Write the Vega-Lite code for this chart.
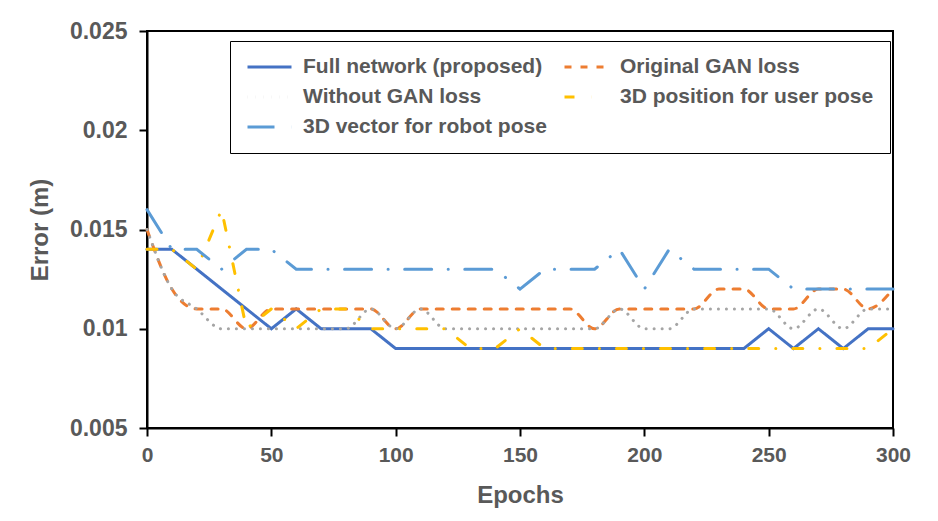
{
  "$schema": "https://vega.github.io/schema/vega-lite/v6.json",
  "width": 746,
  "height": 397,
  "autosize": {"type": "none"},
  "padding": {"left": 147, "top": 31, "right": 45, "bottom": 93},
  "background": "white",
  "config": {
    "view": {"stroke": "black", "strokeWidth": 2},
    "font": "Liberation Sans",
    "axis": {
      "grid": false,
      "domainColor": "black",
      "domainWidth": 2,
      "tickColor": "black",
      "tickWidth": 2,
      "tickSize": 8,
      "labelFont": "Liberation Sans",
      "labelFontWeight": "bold",
      "labelColor": "#595959",
      "titleFont": "Liberation Sans",
      "titleFontWeight": "bold",
      "titleColor": "#595959",
      "titleFontSize": 24
    },
    "legend": {
      "orient": "none",
      "legendX": 83,
      "legendY": 10,
      "columns": 2,
      "direction": "horizontal",
      "strokeColor": "black",
      "fillColor": "white",
      "padding": 16,
      "symbolType": "stroke",
      "symbolSize": 1936,
      "symbolStrokeWidth": 3,
      "clipHeight": 20,
      "labelFont": "Liberation Sans",
      "labelFontSize": 21,
      "labelFontWeight": "bold",
      "labelColor": "#595959",
      "labelOffset": 10,
      "labelLimit": 400,
      "rowPadding": 9,
      "columnPadding": 16
    }
  },
  "data": {
    "values": [
      {"series": "Full network (proposed)", "epoch": 0, "error": 0.014},
      {"series": "Full network (proposed)", "epoch": 10, "error": 0.014},
      {"series": "Full network (proposed)", "epoch": 20, "error": 0.013},
      {"series": "Full network (proposed)", "epoch": 30, "error": 0.012},
      {"series": "Full network (proposed)", "epoch": 40, "error": 0.011},
      {"series": "Full network (proposed)", "epoch": 50, "error": 0.010},
      {"series": "Full network (proposed)", "epoch": 60, "error": 0.011},
      {"series": "Full network (proposed)", "epoch": 70, "error": 0.010},
      {"series": "Full network (proposed)", "epoch": 80, "error": 0.010},
      {"series": "Full network (proposed)", "epoch": 90, "error": 0.010},
      {"series": "Full network (proposed)", "epoch": 100, "error": 0.009},
      {"series": "Full network (proposed)", "epoch": 110, "error": 0.009},
      {"series": "Full network (proposed)", "epoch": 120, "error": 0.009},
      {"series": "Full network (proposed)", "epoch": 130, "error": 0.009},
      {"series": "Full network (proposed)", "epoch": 140, "error": 0.009},
      {"series": "Full network (proposed)", "epoch": 150, "error": 0.009},
      {"series": "Full network (proposed)", "epoch": 160, "error": 0.009},
      {"series": "Full network (proposed)", "epoch": 170, "error": 0.009},
      {"series": "Full network (proposed)", "epoch": 180, "error": 0.009},
      {"series": "Full network (proposed)", "epoch": 190, "error": 0.009},
      {"series": "Full network (proposed)", "epoch": 200, "error": 0.009},
      {"series": "Full network (proposed)", "epoch": 210, "error": 0.009},
      {"series": "Full network (proposed)", "epoch": 220, "error": 0.009},
      {"series": "Full network (proposed)", "epoch": 230, "error": 0.009},
      {"series": "Full network (proposed)", "epoch": 240, "error": 0.009},
      {"series": "Full network (proposed)", "epoch": 250, "error": 0.010},
      {"series": "Full network (proposed)", "epoch": 260, "error": 0.009},
      {"series": "Full network (proposed)", "epoch": 270, "error": 0.010},
      {"series": "Full network (proposed)", "epoch": 280, "error": 0.009},
      {"series": "Full network (proposed)", "epoch": 290, "error": 0.010},
      {"series": "Full network (proposed)", "epoch": 300, "error": 0.010},
      {"series": "Original GAN loss", "epoch": 0, "error": 0.015},
      {"series": "Original GAN loss", "epoch": 10, "error": 0.012},
      {"series": "Original GAN loss", "epoch": 20, "error": 0.011},
      {"series": "Original GAN loss", "epoch": 30, "error": 0.011},
      {"series": "Original GAN loss", "epoch": 40, "error": 0.010},
      {"series": "Original GAN loss", "epoch": 50, "error": 0.011},
      {"series": "Original GAN loss", "epoch": 60, "error": 0.011},
      {"series": "Original GAN loss", "epoch": 70, "error": 0.011},
      {"series": "Original GAN loss", "epoch": 80, "error": 0.011},
      {"series": "Original GAN loss", "epoch": 90, "error": 0.011},
      {"series": "Original GAN loss", "epoch": 100, "error": 0.010},
      {"series": "Original GAN loss", "epoch": 110, "error": 0.011},
      {"series": "Original GAN loss", "epoch": 120, "error": 0.011},
      {"series": "Original GAN loss", "epoch": 130, "error": 0.011},
      {"series": "Original GAN loss", "epoch": 140, "error": 0.011},
      {"series": "Original GAN loss", "epoch": 150, "error": 0.011},
      {"series": "Original GAN loss", "epoch": 160, "error": 0.011},
      {"series": "Original GAN loss", "epoch": 170, "error": 0.011},
      {"series": "Original GAN loss", "epoch": 180, "error": 0.010},
      {"series": "Original GAN loss", "epoch": 190, "error": 0.011},
      {"series": "Original GAN loss", "epoch": 200, "error": 0.011},
      {"series": "Original GAN loss", "epoch": 210, "error": 0.011},
      {"series": "Original GAN loss", "epoch": 220, "error": 0.011},
      {"series": "Original GAN loss", "epoch": 230, "error": 0.012},
      {"series": "Original GAN loss", "epoch": 240, "error": 0.012},
      {"series": "Original GAN loss", "epoch": 250, "error": 0.011},
      {"series": "Original GAN loss", "epoch": 260, "error": 0.011},
      {"series": "Original GAN loss", "epoch": 270, "error": 0.012},
      {"series": "Original GAN loss", "epoch": 280, "error": 0.012},
      {"series": "Original GAN loss", "epoch": 290, "error": 0.011},
      {"series": "Original GAN loss", "epoch": 300, "error": 0.012},
      {"series": "Without GAN loss", "epoch": 0, "error": 0.015},
      {"series": "Without GAN loss", "epoch": 10, "error": 0.012},
      {"series": "Without GAN loss", "epoch": 20, "error": 0.011},
      {"series": "Without GAN loss", "epoch": 30, "error": 0.010},
      {"series": "Without GAN loss", "epoch": 40, "error": 0.010},
      {"series": "Without GAN loss", "epoch": 50, "error": 0.010},
      {"series": "Without GAN loss", "epoch": 60, "error": 0.010},
      {"series": "Without GAN loss", "epoch": 70, "error": 0.010},
      {"series": "Without GAN loss", "epoch": 80, "error": 0.010},
      {"series": "Without GAN loss", "epoch": 90, "error": 0.011},
      {"series": "Without GAN loss", "epoch": 100, "error": 0.010},
      {"series": "Without GAN loss", "epoch": 110, "error": 0.011},
      {"series": "Without GAN loss", "epoch": 120, "error": 0.010},
      {"series": "Without GAN loss", "epoch": 130, "error": 0.010},
      {"series": "Without GAN loss", "epoch": 140, "error": 0.010},
      {"series": "Without GAN loss", "epoch": 150, "error": 0.010},
      {"series": "Without GAN loss", "epoch": 160, "error": 0.010},
      {"series": "Without GAN loss", "epoch": 170, "error": 0.010},
      {"series": "Without GAN loss", "epoch": 180, "error": 0.010},
      {"series": "Without GAN loss", "epoch": 190, "error": 0.011},
      {"series": "Without GAN loss", "epoch": 200, "error": 0.010},
      {"series": "Without GAN loss", "epoch": 210, "error": 0.010},
      {"series": "Without GAN loss", "epoch": 220, "error": 0.011},
      {"series": "Without GAN loss", "epoch": 230, "error": 0.011},
      {"series": "Without GAN loss", "epoch": 240, "error": 0.011},
      {"series": "Without GAN loss", "epoch": 250, "error": 0.011},
      {"series": "Without GAN loss", "epoch": 260, "error": 0.010},
      {"series": "Without GAN loss", "epoch": 270, "error": 0.011},
      {"series": "Without GAN loss", "epoch": 280, "error": 0.010},
      {"series": "Without GAN loss", "epoch": 290, "error": 0.011},
      {"series": "Without GAN loss", "epoch": 300, "error": 0.011},
      {"series": "3D position for user pose", "epoch": 0, "error": 0.014},
      {"series": "3D position for user pose", "epoch": 10, "error": 0.014},
      {"series": "3D position for user pose", "epoch": 20, "error": 0.013},
      {"series": "3D position for user pose", "epoch": 30, "error": 0.016},
      {"series": "3D position for user pose", "epoch": 40, "error": 0.010},
      {"series": "3D position for user pose", "epoch": 50, "error": 0.011},
      {"series": "3D position for user pose", "epoch": 60, "error": 0.010},
      {"series": "3D position for user pose", "epoch": 70, "error": 0.011},
      {"series": "3D position for user pose", "epoch": 80, "error": 0.011},
      {"series": "3D position for user pose", "epoch": 90, "error": 0.010},
      {"series": "3D position for user pose", "epoch": 100, "error": 0.010},
      {"series": "3D position for user pose", "epoch": 110, "error": 0.010},
      {"series": "3D position for user pose", "epoch": 120, "error": 0.010},
      {"series": "3D position for user pose", "epoch": 130, "error": 0.009},
      {"series": "3D position for user pose", "epoch": 140, "error": 0.009},
      {"series": "3D position for user pose", "epoch": 150, "error": 0.010},
      {"series": "3D position for user pose", "epoch": 160, "error": 0.009},
      {"series": "3D position for user pose", "epoch": 170, "error": 0.009},
      {"series": "3D position for user pose", "epoch": 180, "error": 0.009},
      {"series": "3D position for user pose", "epoch": 190, "error": 0.009},
      {"series": "3D position for user pose", "epoch": 200, "error": 0.009},
      {"series": "3D position for user pose", "epoch": 210, "error": 0.009},
      {"series": "3D position for user pose", "epoch": 220, "error": 0.009},
      {"series": "3D position for user pose", "epoch": 230, "error": 0.009},
      {"series": "3D position for user pose", "epoch": 240, "error": 0.009},
      {"series": "3D position for user pose", "epoch": 250, "error": 0.009},
      {"series": "3D position for user pose", "epoch": 260, "error": 0.009},
      {"series": "3D position for user pose", "epoch": 270, "error": 0.009},
      {"series": "3D position for user pose", "epoch": 280, "error": 0.009},
      {"series": "3D position for user pose", "epoch": 290, "error": 0.009},
      {"series": "3D position for user pose", "epoch": 300, "error": 0.010},
      {"series": "3D vector for robot pose", "epoch": 0, "error": 0.016},
      {"series": "3D vector for robot pose", "epoch": 10, "error": 0.014},
      {"series": "3D vector for robot pose", "epoch": 20, "error": 0.014},
      {"series": "3D vector for robot pose", "epoch": 30, "error": 0.013},
      {"series": "3D vector for robot pose", "epoch": 40, "error": 0.014},
      {"series": "3D vector for robot pose", "epoch": 50, "error": 0.014},
      {"series": "3D vector for robot pose", "epoch": 60, "error": 0.013},
      {"series": "3D vector for robot pose", "epoch": 70, "error": 0.013},
      {"series": "3D vector for robot pose", "epoch": 80, "error": 0.013},
      {"series": "3D vector for robot pose", "epoch": 90, "error": 0.013},
      {"series": "3D vector for robot pose", "epoch": 100, "error": 0.013},
      {"series": "3D vector for robot pose", "epoch": 110, "error": 0.013},
      {"series": "3D vector for robot pose", "epoch": 120, "error": 0.013},
      {"series": "3D vector for robot pose", "epoch": 130, "error": 0.013},
      {"series": "3D vector for robot pose", "epoch": 140, "error": 0.013},
      {"series": "3D vector for robot pose", "epoch": 150, "error": 0.012},
      {"series": "3D vector for robot pose", "epoch": 160, "error": 0.013},
      {"series": "3D vector for robot pose", "epoch": 170, "error": 0.013},
      {"series": "3D vector for robot pose", "epoch": 180, "error": 0.013},
      {"series": "3D vector for robot pose", "epoch": 190, "error": 0.014},
      {"series": "3D vector for robot pose", "epoch": 200, "error": 0.012},
      {"series": "3D vector for robot pose", "epoch": 210, "error": 0.014},
      {"series": "3D vector for robot pose", "epoch": 220, "error": 0.013},
      {"series": "3D vector for robot pose", "epoch": 230, "error": 0.013},
      {"series": "3D vector for robot pose", "epoch": 240, "error": 0.013},
      {"series": "3D vector for robot pose", "epoch": 250, "error": 0.013},
      {"series": "3D vector for robot pose", "epoch": 260, "error": 0.012},
      {"series": "3D vector for robot pose", "epoch": 270, "error": 0.012},
      {"series": "3D vector for robot pose", "epoch": 280, "error": 0.012},
      {"series": "3D vector for robot pose", "epoch": 290, "error": 0.012},
      {"series": "3D vector for robot pose", "epoch": 300, "error": 0.012}
    ]
  },
  "encoding": {
    "x": {
      "field": "epoch",
      "type": "quantitative",
      "scale": {"domain": [0, 300], "nice": false},
      "axis": {
        "values": [0, 50, 100, 150, 200, 250, 300],
        "title": "Epochs",
        "labelFontSize": 21,
        "labelPadding": 8,
        "labelFlush": false,
        "titlePadding": 18
      }
    },
    "y": {
      "field": "error",
      "type": "quantitative",
      "scale": {"domain": [0.005, 0.025], "nice": false, "zero": false},
      "axis": {
        "values": [0.005, 0.01, 0.015, 0.02, 0.025],
        "format": ".3~f",
        "title": "Error (m)",
        "labelFontSize": 23,
        "labelPadding": 12,
        "titlePadding": 17
      }
    },
    "color": {
      "field": "series",
      "type": "nominal",
      "scale": {
        "domain": ["Full network (proposed)", "Original GAN loss", "Without GAN loss", "3D position for user pose", "3D vector for robot pose"],
        "range": ["#4472C4", "#ED7D31", "#A5A5A5", "#FFC000", "#5B9BD5"]
      },
      "legend": {"title": null}
    },
    "strokeDash": {
      "field": "series",
      "type": "nominal",
      "scale": {
        "domain": ["Full network (proposed)", "Original GAN loss", "Without GAN loss", "3D position for user pose", "3D vector for robot pose"],
        "range": [[1, 0], [7, 9], [0.1, 7.9], [10, 17, 0.1, 17], [27, 16.5, 0.1, 16.5]]
      },
      "legend": {"title": null}
    }
  },
  "layer": [
    {
      "transform": [{"filter": {"field": "series", "equal": "Full network (proposed)"}}],
      "mark": {"type": "line", "strokeWidth": 3, "strokeCap": "round"}
    },
    {
      "transform": [{"filter": {"field": "series", "oneOf": ["Original GAN loss", "Without GAN loss"]}}],
      "mark": {"type": "line", "strokeWidth": 3, "strokeCap": "round", "interpolate": "monotone"}
    },
    {
      "transform": [{"filter": {"field": "series", "oneOf": ["3D position for user pose", "3D vector for robot pose"]}}],
      "mark": {"type": "line", "strokeWidth": 3, "strokeCap": "round"}
    }
  ]
}
